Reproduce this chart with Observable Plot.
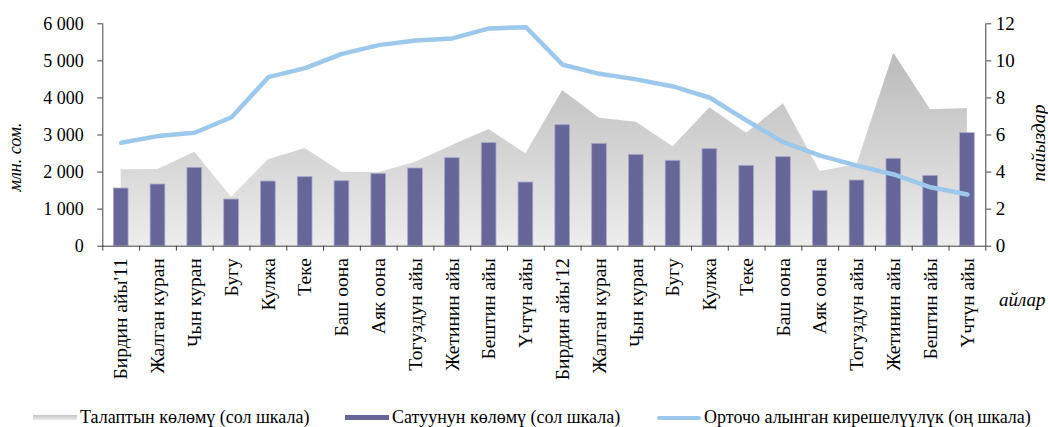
<!DOCTYPE html>
<html><head><meta charset="utf-8">
<script src="https://cdn.jsdelivr.net/npm/d3@7"></script>
<script src="https://cdn.jsdelivr.net/npm/@observablehq/plot@0.6"></script>
<style>
html,body{margin:0;padding:0;background:#fff;}
body{font-family:"Liberation Serif","Times New Roman",serif;width:1048px;height:427px;overflow:hidden;position:relative;}
#chart{position:absolute;left:0;top:0;}
.ttl{position:absolute;font-style:italic;font-size:18px;color:#000;white-space:nowrap;}
#legend{position:absolute;left:0;top:406px;height:23px;width:1048px;font-size:18px;color:#000;}
.item{position:absolute;top:0;display:flex;align-items:center;height:23px;white-space:nowrap;}
.sw{display:inline-block;width:44px;margin-right:3px;}
</style></head><body>
<div id="chart"></div>
<div class="ttl" id="ylab" style="left:15px;top:157px;transform:translate(-50%,-50%) rotate(-90deg);">млн. сом.</div>
<div class="ttl" id="y2lab" style="left:1039px;top:143px;font-size:19px;transform:translate(-50%,-50%) rotate(-90deg);">пайыздар</div>
<div class="ttl" style="left:999px;top:289px;font-size:19px;">айлар</div>
<div id="legend">
  <div class="item" style="left:33px;"><span class="sw" style="height:5px;background:linear-gradient(#c4c4c4,#ececec);"></span><span>Талаптын көлөмү (сол шкала)</span></div>
  <div class="item" style="left:345px;"><span class="sw" style="height:5px;background:#666699;"></span><span>Сатуунун көлөмү (сол шкала)</span></div>
  <div class="item" style="left:657px;"><span class="sw" style="height:4px;border-radius:2px;background:#9cc8ec;"></span><span>Орточо алынган кирешелүүлүк (оң шкала)</span></div>
</div>
<script>
const months = ["Бирдин айы'11","Жалган куран","Чын куран","Бугу","Кулжа","Теке","Баш оона","Аяк оона","Тогуздун айы","Жетинин айы","Бештин айы","Үчтүн айы",
  "Бирдин айы'12","Жалган куран","Чын куран","Бугу","Кулжа","Теке","Баш оона","Аяк оона","Тогуздун айы","Жетинин айы","Бештин айы","Үчтүн айы"];
const demand = [2060,2069,2537,1322,2330,2636,1997,1979,2267,2717,3148,2492,4201,3454,3346,2681,3733,3049,3841,2015,2204,5208,3679,3715];
const sales = [1556,1664,2114,1259,1745,1862,1754,1952,2096,2375,2780,1718,3265,2762,2465,2303,2618,2168,2402,1493,1772,2357,1898,3049];
const yieldPct = [5.58,5.94,6.12,6.96,9.12,9.61,10.38,10.85,11.10,11.21,11.75,11.82,9.79,9.30,9.00,8.62,8.01,6.78,5.61,4.89,4.35,3.87,3.18,2.79];
const leftTicks = [0,1000,2000,3000,4000,5000,6000];
const rightTicks = [0,2,4,6,8,10,12];

const k = 6000 / 12;
const data = months.map((m, i) => ({i, m, demand: demand[i], sales: sales[i], yld: yieldPct[i]}));
const fmt = d3.formatLocale({thousands: " ", grouping: [3], decimal: ","}).format(",");
const step = (1048 - 102.3 - 62.7) / 24;

const plot = Plot.plot({
  width: 1048, height: 406,
  marginLeft: 102.3, marginRight: 62.7, marginTop: 23.3, marginBottom: 160.3,
  style: {fontFamily: "'Liberation Serif','Times New Roman',serif", fontSize: "18px", color: "#000", background: "transparent", overflow: "visible"},
  x: {type: "band", domain: d3.range(24), paddingInner: 0.6, paddingOuter: 0.3, round: false, axis: null},
  y: {domain: [0, 6000], axis: null},
  marks: [
    Plot.areaY(data, {x: "i", y: "demand", fill: "url(#demandGrad)"}),
    Plot.barY(data, {x: "i", y: "sales", fill: "#666699", stroke: "#a8a8c8", strokeWidth: 0.8}),
    Plot.line(data, {x: "i", y: d => d.yld * k, stroke: "#9cc8ec", strokeWidth: 4.5, strokeLinecap: "round", strokeLinejoin: "round"}),
    Plot.ruleY([0], {stroke: "#404040", strokeWidth: 1}),
    Plot.frame({anchor: "left", stroke: "#404040"}),
    Plot.frame({anchor: "right", stroke: "#404040"}),
    Plot.axisY({ticks: leftTicks, tickFormat: fmt, tickSize: 5, tickPadding: 14, stroke: "#404040", fontSize: 18, label: null}),
    Plot.axisY({anchor: "right", ticks: rightTicks.map(v => v * k), tickFormat: v => String(v / k), tickSize: 5, tickPadding: 5, stroke: "#404040", fontSize: 19, label: null}),
    Plot.axisX({ticks: d3.range(24), tickFormat: () => "", tickSize: 5, dx: -step / 2, stroke: "#404040", label: null}),
    Plot.axisX({ticks: [23], tickFormat: () => "", tickSize: 5, dx: step / 2, stroke: "#404040", label: null}),
    Plot.axisX({ticks: d3.range(24), tickFormat: i => months[i], tickSize: 0, tickPadding: 12, tickRotate: -90, fontSize: 19.5, label: null})
  ]
});

const ns = "http://www.w3.org/2000/svg";
const defs = document.createElementNS(ns, "defs");
defs.innerHTML = '<linearGradient id="demandGrad" x1="0" y1="0" x2="0" y2="1"><stop offset="0" stop-color="#bababa"/><stop offset="1" stop-color="#ededed"/></linearGradient>';
plot.insertBefore(defs, plot.firstChild);
document.getElementById("chart").appendChild(plot);
</script>
</body></html>
